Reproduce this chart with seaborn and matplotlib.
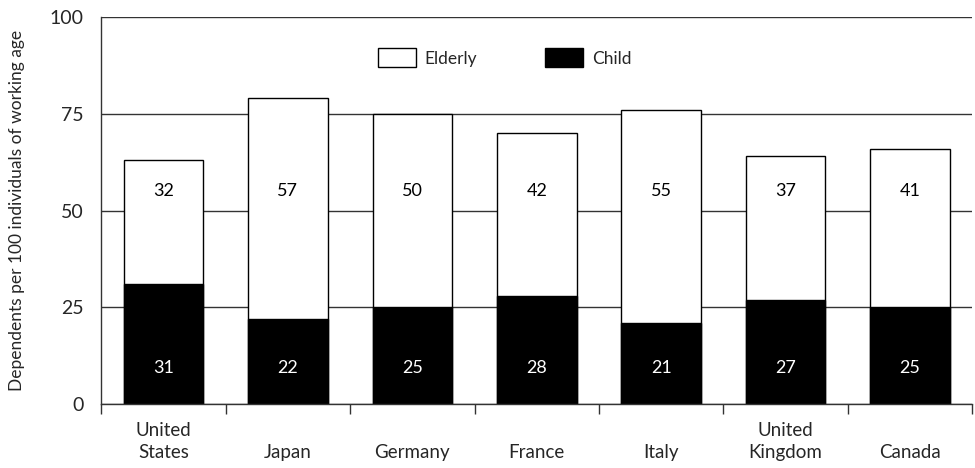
import numpy as np
import pandas as pd
import matplotlib
matplotlib.use("Agg")
import matplotlib.pyplot as plt
import seaborn as sns
from matplotlib.patches import Patch

countries = ["United\nStates", "Japan", "Germany", "France", "Italy",
             "United\nKingdom", "Canada"]
child = [31, 22, 25, 28, 21, 27, 25]
elderly = [32, 57, 50, 42, 55, 37, 41]

df = pd.DataFrame({"Country": countries, "Child": child, "Elderly": elderly})
df["Total"] = df["Child"] + df["Elderly"]

sns.set_style("white")
plt.rcParams["font.family"] = ["Lato", "DejaVu Sans"]

fig, ax = plt.subplots(figsize=(9.75, 4.68), dpi=100)

sns.barplot(data=df, x="Country", y="Total", color="white", edgecolor="black",
            linewidth=1, width=0.64, saturation=1, ax=ax)
sns.barplot(data=df, x="Country", y="Child", color="black", edgecolor="black",
            linewidth=1, width=0.64, saturation=1, ax=ax)

# value labels sit at fixed heights inside each segment
for i, (c, e) in enumerate(zip(child, elderly)):
    ax.text(i, 9.3, str(c), color="white", ha="center", va="center", fontsize=13)
    ax.text(i, 55, str(e), color="black", ha="center", va="center", fontsize=13)

ax.set_ylim(0, 100)
ax.set_xlim(-0.5, len(countries) - 0.5)
ax.set_yticks([0, 25, 50, 75, 100])
ax.yaxis.grid(True, color="#333333", linewidth=1)
ax.set_axisbelow(True)

ax.set_xticks(np.arange(-0.5, len(countries), 1), minor=True)
ax.tick_params(axis="x", which="major", length=0, labelsize=13.5, pad=41)
ax.tick_params(axis="x", which="minor", length=7, width=1, color="#333333",
               direction="out", bottom=True)
ax.tick_params(axis="y", length=0, labelsize=14, pad=13)
# bottom-align the country names so one-line names sit on the lower row
for lab in ax.get_xticklabels():
    lab.set_verticalalignment("bottom")
    lab.set_linespacing(1.35)

for s in ["top", "right"]:
    ax.spines[s].set_visible(False)
for s in ["left", "bottom"]:
    ax.spines[s].set_color("#333333")
    ax.spines[s].set_linewidth(1)

ax.set_xlabel("")
ax.set_ylabel("Dependents per 100 individuals of working age", fontsize=12.5)
ax.yaxis.set_label_coords(-0.088, 0.5)

handles = [Patch(facecolor="white", edgecolor="black", label="Elderly"),
           Patch(facecolor="black", edgecolor="black", label="Child")]
ax.legend(handles=handles, ncol=2, frameon=False, loc="center",
          bbox_to_anchor=(0.463, 0.895), fontsize=12.5, handlelength=2.2,
          handleheight=1.3, columnspacing=3.9, handletextpad=0.5)

plt.subplots_adjust(left=0.104, right=0.997, top=0.963, bottom=0.137)
plt.savefig("out.png", dpi=100)
plt.close()
